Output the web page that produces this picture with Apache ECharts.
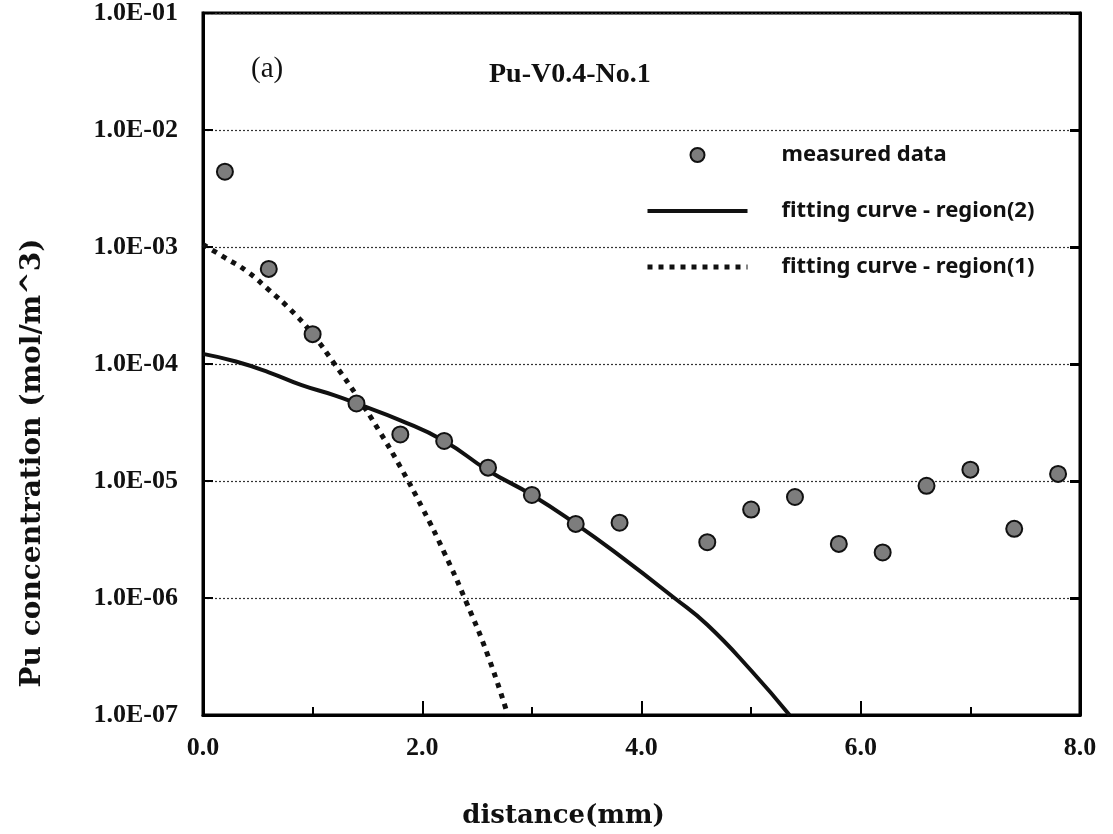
<!DOCTYPE html>
<html>
<head>
<meta charset="utf-8">
<script src="https://cdn.jsdelivr.net/npm/echarts@6/dist/echarts.min.js"></script>
<style>
html,body{margin:0;padding:0;background:#fff;}
#chart{width:1113px;height:834px;}
</style>
</head>
<body>
<div id="chart"></div>
<script>
// measured data: distance (mm) and Pu concentration (mol/m^3)
const measuredX = [0.2, 0.6, 1.0, 1.4, 1.8, 2.2, 2.6, 3.0, 3.4, 3.8, 4.6, 5.0, 5.4, 5.8, 6.2, 6.6, 7.0, 7.4, 7.8];
const measuredY = [4.4e-3, 6.5e-4, 1.8e-4, 4.6e-5, 2.5e-5, 2.2e-5, 1.3e-5, 7.6e-6, 4.3e-6, 4.4e-6, 3.0e-6, 5.7e-6, 7.3e-6, 2.9e-6, 2.45e-6, 9.1e-6, 1.25e-5, 3.9e-6, 1.15e-5];

// fitting curve - region(2) (solid)
const region2X = [0.0, 0.3, 0.6, 0.9, 1.2, 1.4, 1.8, 2.2, 2.6, 3.0, 3.4, 3.8, 4.3, 4.6, 5.0, 5.35];
const region2Y = [1.22e-4, 1.05e-4, 8.5e-5, 6.6e-5, 5.4e-5, 4.6e-5, 3.3e-5, 2.2e-5, 1.23e-5, 7.6e-6, 4.3e-6, 2.3e-6, 1.0e-6, 5.9e-7, 2.4e-7, 1.0e-7];

// fitting curve - region(1) (dotted)
const region1X = [0.0, 0.2, 0.4, 0.6, 0.8, 1.0, 1.2, 1.4, 1.6, 1.8, 2.0, 2.2, 2.4, 2.6, 2.78];
const region1Y = [1.05e-3, 8.1e-4, 6.2e-4, 4.3e-4, 2.9e-4, 1.8e-4, 1.0e-4, 5.4e-5, 2.75e-5, 1.32e-5, 5.9e-6, 2.45e-6, 9.3e-7, 3.2e-7, 1.0e-7];

const seriesNames = ['measured data', 'fitting curve - region(2)', 'fitting curve - region(1)'];
const xTickLabels = ['0.0', '2.0', '4.0', '6.0', '8.0'];

function zip(xs, ys) { return xs.map((x, i) => [x, ys[i]]); }
function fmtExp(v) {
  const e = Math.round(Math.log10(v));
  const m = v / Math.pow(10, e);
  return m.toFixed(1) + 'E' + (e < 0 ? '-' : '+') + String(Math.abs(e)).padStart(2, '0');
}

const serif = '"Liberation Serif", "Times New Roman", serif';
const titleSerif = '"DejaVu Serif", serif';
const dotted = [5, 6];
const chart = echarts.init(document.getElementById('chart'), null, {renderer: 'canvas'});
chart.setOption({
  animation: false,
  backgroundColor: '#fff',
  title: [
    {text: '(a)', left: 246, top: 50, textStyle: {fontFamily: serif, fontWeight: 'normal', fontSize: 29, color: '#111'}},
    {text: 'Pu-V0.4-No.1', left: 484, top: 56, textStyle: {fontFamily: serif, fontWeight: 'bold', fontSize: 28, color: '#111'}}
  ],
  grid: {left: 203, right: 33, top: 11, bottom: 118, show: true, borderColor: '#000', borderWidth: 3, backgroundColor: 'transparent'},
  legend: {
    orient: 'vertical', left: 645, top: 144, padding: 0, itemWidth: 100, itemHeight: 14, itemGap: 34,
    data: [
      {name: seriesNames[0]},
      {name: seriesNames[1], itemStyle: {opacity: 0}, lineStyle: {width: 4, color: '#111'}},
      {name: seriesNames[2], itemStyle: {opacity: 0}, lineStyle: {width: 5, color: '#111', type: dotted, cap: 'butt'}}
    ],
    textStyle: {fontFamily: '"Noto Sans", sans-serif', fontWeight: 'bold', fontSize: 22, color: '#111', padding: [0, 0, 0, 29]}
  },
  xAxis: {
    type: 'value', min: 0, max: 8, interval: 2,
    name: 'distance(mm)', nameLocation: 'middle', nameGap: 88,
    nameTextStyle: {fontFamily: titleSerif, fontWeight: 'bold', fontSize: 26, color: '#111', padding: [0, 156, 0, 0]},
    axisLine: {lineStyle: {color: '#000', width: 3}},
    axisTick: {inside: true, length: 14, lineStyle: {color: '#000', width: 2}},
    minorTick: {show: true, splitNumber: 2, length: 8, lineStyle: {color: '#000', width: 2}},
    axisLabel: {margin: 20, fontFamily: serif, fontWeight: 'bold', fontSize: 26, color: '#111',
      formatter: v => xTickLabels[Math.round(v / 2)]},
    splitLine: {show: false}
  },
  yAxis: [{
    type: 'log', logBase: 10, min: 1e-7, max: 1e-1, interval: 1,
    name: 'Pu concentration (mol/m^3)', nameLocation: 'middle', nameGap: 156, nameRotate: 90,
    nameTextStyle: {fontFamily: titleSerif, fontWeight: 'bold', fontSize: 28, color: '#111', padding: [0, 198, 0, 0]},
    axisLine: {lineStyle: {color: '#000', width: 3}},
    axisTick: {inside: true, length: 10, lineStyle: {color: '#000', width: 2}},
    axisLabel: {margin: 25, fontFamily: serif, fontWeight: 'bold', fontSize: 26, color: '#111', formatter: fmtExp, padding: [10, 0, 0, 0]},
    splitLine: {show: true, lineStyle: {color: '#333', width: 1.2, type: [2, 2]}}
  }, {
    type: 'log', logBase: 10, min: 1e-7, max: 1e-1, interval: 1, position: 'right',
    axisLine: {show: true, lineStyle: {color: '#000', width: 3}},
    axisTick: {show: true, inside: true, length: 10, lineStyle: {color: '#000', width: 3}},
    axisLabel: {show: false},
    splitLine: {show: false}
  }],
  series: [
    {
      name: seriesNames[1], type: 'line', data: zip(region2X, region2Y), smooth: true,
      symbol: 'none', clip: true, z: 3,
      itemStyle: {color: '#111'},
      lineStyle: {color: '#111', width: 4}
    },
    {
      name: seriesNames[2], type: 'line', data: zip(region1X, region1Y), smooth: true,
      symbol: 'none', clip: true, z: 3,
      itemStyle: {color: '#111'},
      lineStyle: {color: '#111', width: 5, type: dotted, cap: 'butt'}
    },
    {
      name: seriesNames[0], type: 'scatter', data: zip(measuredX, measuredY),
      symbol: 'circle', symbolSize: 16, z: 5,
      itemStyle: {color: '#7d7d7d', borderColor: '#111', borderWidth: 2, opacity: 1}
    }
  ]
});
</script>
</body>
</html>
